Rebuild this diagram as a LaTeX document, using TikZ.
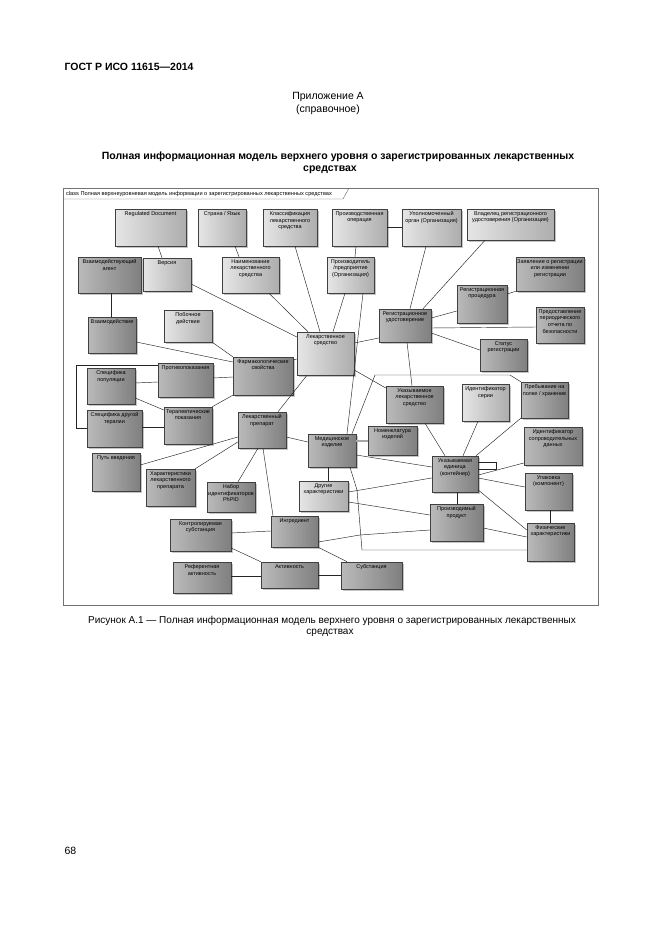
\documentclass[tikz,border=0pt]{standalone}
\usepackage{fontspec}
\setmainfont{Liberation Sans}
\usetikzlibrary{shadows}

\begin{document}
\begin{tikzpicture}[x=1pt,y=-1pt,
  cls/.style={draw=black!75,line width=0.5pt,
    drop shadow={shadow xshift=1.6pt,shadow yshift=-1.6pt,fill=black!45}},
  lbox/.style={cls,left color=black!10,right color=black!32},
  dbox/.style={cls,left color=black!27,right color=black!50},
  clsname/.style={anchor=north,align=center,inner sep=2.5pt,
    font=\fontsize{5.5}{6.6}\selectfont},
  conn/.style={draw=black!85,line width=0.45pt},
  page/.style={font=\fontsize{10.5}{12.6}\selectfont}]
  \useasboundingbox (0,0) rectangle (661,936);
  \fill[white] (0,0) rectangle (661,936);

  % page text
  \node[page,font=\fontsize{10.5}{12.6}\bfseries,anchor=west] (gost) at (61,67) {ГОСТ Р ИСО 11615—2014};
  \node[page] (appx) at (328,97) {Приложение А};
  \node[page] (appxnote) at (328,110) {(справочное)};
  \node[page,font=\fontsize{10.5}{12.6}\bfseries] (title) at (338,157) {Полная информационная модель верхнего уровня о зарегистрированных лекарственных};
  \node[page,font=\fontsize{10.5}{12.6}\bfseries] (title2) at (330,170) {средствах};
  \node[page,font=\fontsize{10}{12}\selectfont] (caption) at (332,621) {Рисунок А.1 — Полная информационная модель верхнего уровня о зарегистрированных лекарственных};
  \node[page,font=\fontsize{10}{12}\selectfont] (caption2) at (330,633) {средствах};
  \node[page,anchor=west] (pagenum) at (61,851) {68};

  % frame
  \draw[black!55,line width=0.6pt] (63,188) rectangle (598,605);
  \draw[black!60,line width=0.4pt] (63,199) -- (343,199) -- (349,188);
  \node[anchor=west,inner sep=0pt,font=\fontsize{5.6}{6}\selectfont] (frametitle) at (66,194)
    {class Полная верхнеуровневая модель информации о зарегистрированных лекарственных средствах};

  % classes
  \node[lbox,minimum width=71,minimum height=37,label={[clsname]north:Regulated Document}] (regdoc) at (150.5,227.5) {};
  \node[lbox,minimum width=48,minimum height=37,label={[clsname]north:Страна / Язык}] (country) at (222,227.5) {};
  \node[lbox,minimum width=54,minimum height=37,label={[clsname]north:Классификация\\лекарственного\\средства}] (classif) at (290,227.5) {};
  \node[lbox,minimum width=55,minimum height=37,label={[clsname]north:Производственная\\операция}] (prodop) at (359.5,227.5) {};
  \node[lbox,minimum width=59,minimum height=37,label={[clsname]north:Уполномоченный\\орган (Организация)}] (authority) at (431.5,227.5) {};
  \node[lbox,minimum width=87,minimum height=31,label={[clsname]north:Владелец регистрационного\\удостоверения (Организация)}] (holder) at (510.5,224.5) {};
  \node[dbox,minimum width=63,minimum height=36,label={[clsname]north:Взаимодействующий\\агент}] (agent) at (109.5,275) {};
  \node[lbox,minimum width=48,minimum height=33,label={[clsname]north:Версия}] (version) at (167,274.5) {};
  \node[lbox,minimum width=57,minimum height=36,label={[clsname]north:Наименование\\лекарственного\\средства}] (drugname) at (250.5,275) {};
  \node[lbox,minimum width=47,minimum height=36,label={[clsname]north:Производитель\\/предприятие\\(Организация)}] (manuf) at (350.5,275) {};
  \node[dbox,minimum width=68,minimum height=34,label={[clsname]north:Заявление о регистрации\\или изменении\\регистрации}] (application) at (550,274) {};
  \node[dbox,minimum width=50,minimum height=38,label={[clsname]north:Регистрационная\\процедура}] (regproc) at (482,304) {};
  \node[dbox,minimum width=48,minimum height=36,label={[clsname]north:Взаимодействие}] (interaction) at (112,335) {};
  \node[lbox,minimum width=48,minimum height=32,label={[clsname]north:Побочное\\действие}] (sideeff) at (188,326) {};
  \node[lbox,minimum width=57,minimum height=43,label={[clsname]north:Лекарственное\\средство}] (medicine) at (325.5,353.5) {};
  \node[dbox,minimum width=52,minimum height=33,label={[clsname]north:Регистрационное\\удостоверение}] (regcert) at (405,325.5) {};
  \node[dbox,minimum width=48,minimum height=36,label={[clsname]north:Предоставление\\периодического\\отчета по\\безопасности}] (psur) at (560,325) {};
  \node[dbox,minimum width=47,minimum height=32,label={[clsname]north:Статус\\регистрации}] (status) at (503.5,355) {};
  \node[dbox,minimum width=60,minimum height=38,label={[clsname]north:Фармакологические\\свойства}] (pharm) at (263,376) {};
  \node[dbox,minimum width=55,minimum height=34,label={[clsname]north:Противопоказания}] (contra) at (185.5,380) {};
  \node[dbox,minimum width=48,minimum height=36,label={[clsname]north:Специфика\\популяции}] (population) at (111,386) {};
  \node[dbox,minimum width=48,minimum height=37,label={[clsname]north:Терапевтические\\показания}] (therapy) at (188,425.5) {};
  \node[dbox,minimum width=55,minimum height=37,label={[clsname]north:Специфика другой\\терапии}] (othertherapy) at (114.5,428.5) {};
  \node[dbox,minimum width=57,minimum height=37,label={[clsname]north:Указываемое\\лекарственное\\средство}] (indicated) at (414.5,404.5) {};
  \node[lbox,minimum width=47,minimum height=37,label={[clsname]north:Идентификатор\\серии}] (batch) at (485.5,402.5) {};
  \node[dbox,minimum width=47,minimum height=36,label={[clsname]north:Пребывание на\\полке / хранение}] (shelf) at (544.5,400) {};
  \node[dbox,minimum width=48,minimum height=36,label={[clsname]north:Лекарственный\\препарат}] (product) at (262,430) {};
  \node[dbox,minimum width=48,minimum height=33,label={[clsname]north:Медицинское\\изделие}] (device) at (332,450.5) {};
  \node[dbox,minimum width=49,minimum height=29,label={[clsname]north:Номенклатура\\изделий}] (nomencl) at (392.5,440.5) {};
  \node[dbox,minimum width=58,minimum height=38,label={[clsname]north:Идентификатор\\сопроводительных\\данных}] (suppdata) at (553,446) {};
  \node[dbox,minimum width=48,minimum height=38,label={[clsname]north:Путь введения}] (route) at (116,472) {};
  \node[dbox,minimum width=46,minimum height=36,label={[clsname]north:Указываемая\\единица\\(контейнер)}] (unit) at (455,474) {};
  \node[dbox,minimum width=49,minimum height=37,label={[clsname]north:Характеристики\\лекарственного\\препарата}] (prodchar) at (170.5,487.5) {};
  \node[dbox,minimum width=48,minimum height=30,label={[clsname]north:Набор\\идентификаторов\\PhPID}] (phpid) at (231,497) {};
  \node[lbox,minimum width=49,minimum height=30,label={[clsname]north:Другие\\характеристики}] (otherchar) at (323.5,496) {};
  \node[dbox,minimum width=47,minimum height=37,label={[clsname]north:Упаковка\\(компонент)}] (packaging) at (548.5,491.5) {};
  \node[dbox,minimum width=53,minimum height=37,label={[clsname]north:Производимый\\продукт}] (manufitem) at (456.5,522.5) {};
  \node[dbox,minimum width=61,minimum height=32,label={[clsname]north:Контролируемая\\субстанция}] (controlled) at (200.5,535) {};
  \node[dbox,minimum width=47,minimum height=31,label={[clsname]north:Ингредиент}] (ingredient) at (294.5,531.5) {};
  \node[dbox,minimum width=47,minimum height=38,label={[clsname]north:Физические\\характеристики}] (physical) at (550.5,542) {};
  \node[dbox,minimum width=58,minimum height=31,label={[clsname]north:Референтная\\активность}] (refstrength) at (202,577.5) {};
  \node[dbox,minimum width=57,minimum height=26,label={[clsname]north:Активность}] (strength) at (289.5,575) {};
  \node[dbox,minimum width=61,minimum height=27,label={[clsname]north:Субстанция}] (substance) at (371.5,575.5) {};

  % associations
  \begin{scope}[every edge/.style={conn}]
  \path (158,0 |- regdoc.south) edge (162,0 |- version.north);
  \path (235,0 |- country.south) edge (239,0 |- drugname.north);
  \path (version.east |- 0,284) edge (medicine.west |- 0,337);
  \path (269,0 |- drugname.south) edge (308,0 |- medicine.north);
  \path (295,0 |- classif.south) edge (320,0 |- medicine.north);
  \path (356,0 |- prodop.south) edge (355,0 |- manuf.north);
  \path (prodop.east |- 0,227) edge (authority.west |- 0,227);
  \path (345,0 |- manuf.south) edge (333,0 |- medicine.north);
  \path (363,0 |- manuf.south) edge (347,0 |- device.north);
  \path (426,0 |- authority.south) edge (410,0 |- regcert.north);
  \path (485,0 |- holder.south) edge (423,0 |- regcert.north);
  \path (application.south west) edge (regproc.east |- 0,294);
  \path (regproc.west |- 0,311) edge (regcert.east |- 0,318);
  \path (regcert.east |- 0,328) edge (psur.west |- 0,327);
  \path (regcert.east |- 0,333) edge (status.west |- 0,350);
  \path (regcert.west |- 0,338) edge (medicine.east |- 0,343);
  \path (407,0 |- regcert.south) edge (412,0 |- indicated.north);
  \path (111,0 |- agent.south) edge (111,0 |- interaction.north);
  \path (interaction.east |- 0,342) edge (pharm.west |- 0,362);
  \path (sideeff.south east) edge (pharm.north west);
  \path (contra.east |- 0,378) edge (pharm.west |- 0,377);
  \path (therapy.north east) edge (pharm.south west);
  \path (pharm.east |- 0,360) edge (medicine.west |- 0,359);
  \path (population.east |- 0,383) edge (contra.west |- 0,382);
  \path (population.east |- 0,398) edge (therapy.west |- 0,410);
  \path (othertherapy.east |- 0,427) edge (therapy.west |- 0,427);
  \path (307,0 |- medicine.south) edge (278,0 |- product.north);
  \path (medicine.east |- 0,370) edge (indicated.west |- 0,388);
  \path (product.west |- 0,437) edge (route.east |- 0,465);
  \path (product.west |- 0,442) edge (prodchar.north east);
  \path (258,0 |- product.south) edge (238,0 |- phpid.north);
  \path (263,0 |- product.south) edge (273,0 |- ingredient.north);
  \path (product.east |- 0,437) edge (device.west |- 0,442);
  \path (device.east |- 0,455) edge (unit.west |- 0,467);
  \path (328,0 |- device.south) edge (328,0 |- otherchar.north);
  \path (otherchar.east |- 0,492) edge (unit.west |- 0,478);
  \path (otherchar.east |- 0,502) edge (manufitem.west |- 0,515);
  \path (ingredient.south east) edge (347,0 |- substance.north);
  \path (controlled.east |- 0,533) edge (ingredient.west |- 0,531);
  \path (controlled.east |- 0,548) edge (strength.north west);
  \path (refstrength.east |- 0,576) edge (strength.west |- 0,576);
  \path (strength.east |- 0,575) edge (substance.west |- 0,575);
  \path (425,0 |- indicated.south) edge (445,0 |- unit.north);
  \path (478,0 |- batch.south) edge (463,0 |- unit.north);
  \path (shelf.south west) edge (476,0 |- unit.north);
  \path (unit.east |- 0,475) edge (suppdata.west |- 0,463);
  \path (unit.east |- 0,478) edge (packaging.west |- 0,487);
  \path (unit.east |- 0,490) edge (physical.west |- 0,530);
  \path (457,0 |- unit.south) edge (457,0 |- manufitem.north);
  \path (550,0 |- packaging.south) edge (550,0 |- physical.north);
  \path (manufitem.east |- 0,528) edge (physical.west |- 0,537);
  \end{scope}
  \draw[conn,double=black!35,double distance=1.5pt] (device.east |- 0,441) -- (nomencl.west |- 0,441);
  \draw[conn] (contra.west |- 0,365) -- (76,365) -- (76,428) -- (othertherapy.west |- 0,428);
  \draw[conn] (352,0 |- device.north) -- (375,375) -- (510,375) -- (shelf.north west);
  \draw[conn] (350,0 |- device.south) -- (357,490) -- (362,550) -- (physical.west |- 0,550);
  \draw[conn] (ingredient.east |- 0,542) -- (360,535) -- (manufitem.west |- 0,530);
  \draw[conn] (unit.east |- 0,462) -- (496,462) -- (496,469) -- (unit.east |- 0,469);
\end{tikzpicture}
\end{document}
